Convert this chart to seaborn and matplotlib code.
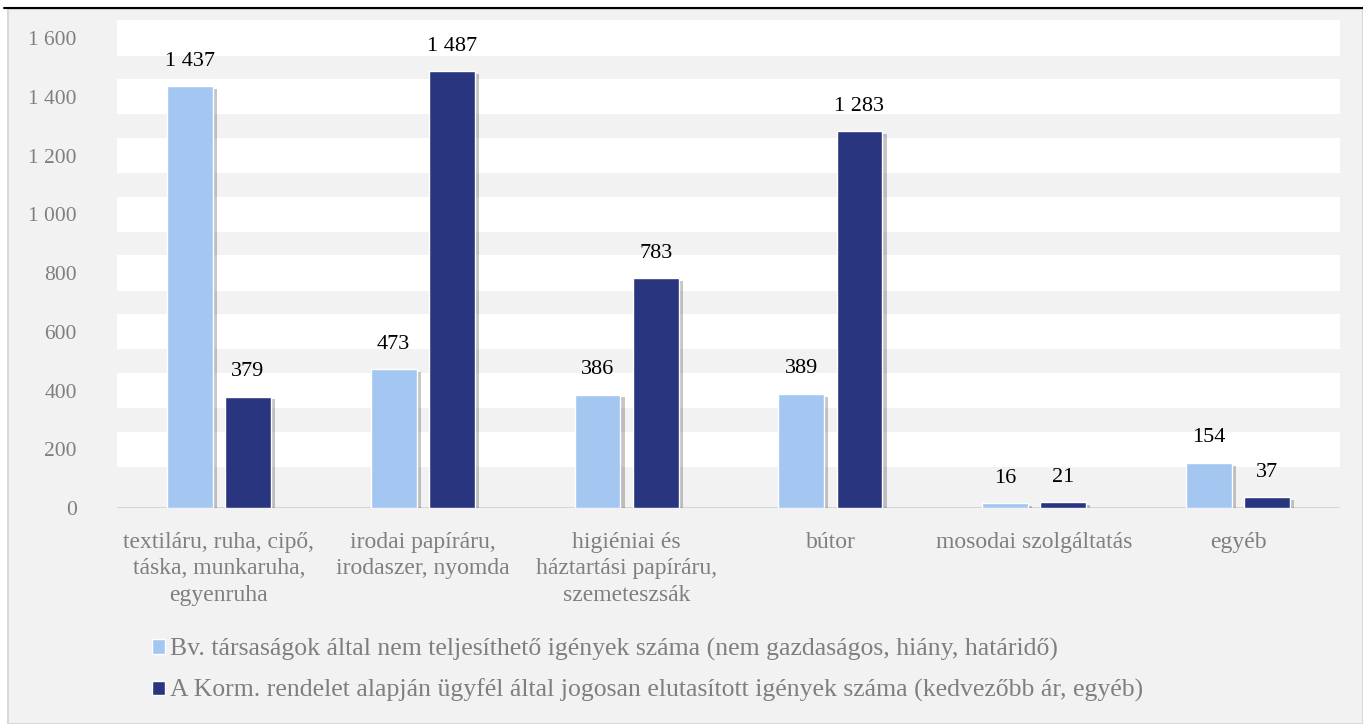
import matplotlib
matplotlib.use("Agg")
import matplotlib.pyplot as plt
import matplotlib.patheffects as pe
from matplotlib.patches import Rectangle
from matplotlib.lines import Line2D
import pandas as pd
import seaborn as sns

# data
categories = ["textiláru, ruha, cipő,\ntáska, munkaruha,\negyenruha",
              "irodai papíráru,\nirodaszer, nyomda",
              "higiéniai és\nháztartási papíráru,\nszemeteszsák",
              "bútor",
              "mosodai szolgáltatás",
              "egyéb"]
series_names = ["Bv. társaságok által nem teljesíthető igények száma (nem gazdaságos, hiány, határidő)",
                "A Korm. rendelet alapján ügyfél által jogosan elutasított igények száma (kedvezőbb ár, egyéb)"]
not_fulfilled = [1437, 473, 386, 389, 16, 154]
rejected = [379, 1487, 783, 1283, 21, 37]
yticks = [0, 200, 400, 600, 800, 1000, 1200, 1400, 1600]

colors = ["#a3c7f1", "#29367f"]
grey_txt = "#7f7f7f"

df = pd.DataFrame({
    "kategoria": categories * 2,
    "sorozat": [series_names[0]] * 6 + [series_names[1]] * 6,
    "db": not_fulfilled + rejected,
})

sns.set_theme(style="white")
plt.rcParams["font.family"] = ["serif"]
plt.rcParams["font.serif"] = ["Liberation Serif", "DejaVu Serif"]

fig = plt.figure(figsize=(13.63, 7.24), dpi=100)
fig.patch.set_facecolor("white")

# grey panel behind the chart and black rule on top
fig.patches.append(Rectangle((8 / 1363, 0), 1 - 8 / 1363, 1 - 9 / 724,
                             transform=fig.transFigure, facecolor="#f2f2f2",
                             edgecolor="#d9d9d9", lw=1.5, zorder=-10))
fig.lines.append(Line2D([4 / 1363, 1], [1 - 8 / 724, 1 - 8 / 724],
                        transform=fig.transFigure, color="black", lw=1.5))

ax = fig.add_axes([117 / 1363, 1 - 508 / 724, (1340 - 117) / 1363, (508 - 20.4) / 724])
ax.set_facecolor("none")

# wide white bands around each gridline, like the original
for v in yticks[1:]:
    ax.axhspan(v - 60, v + 60, color="white", zorder=0, lw=0)
ax.axhline(0, color="#d0d0d0", lw=1.2, zorder=1)

sns.barplot(data=df, x="kategoria", y="db", hue="sorozat", palette=colors,
            width=0.57, gap=0.21, saturation=1, ax=ax, zorder=3)

handles, labels = ax.get_legend_handles_labels()
ax.get_legend().remove()

for cont, vals in zip(ax.containers, [not_fulfilled, rejected]):
    for bar in cont:
        bar.set_path_effects([pe.SimplePatchShadow(offset=(3, -2), shadow_rgbFace="#444444", alpha=0.3),
                              pe.Normal()])
    ax.bar_label(cont, labels=[f"{v:,}".replace(",", " ") for v in vals],
                 padding=11, fontsize=16, color="black")

ax.set_xlim(-0.5, 5.5)
ax.set_ylim(0, 1660)
ax.set_yticks(yticks)
ax.set_yticklabels([f"{v:,}".replace(",", " ") for v in yticks])
ax.tick_params(axis="y", length=0, pad=29, labelsize=15.5, labelcolor=grey_txt)
ax.tick_params(axis="x", length=0, pad=17, labelsize=17, labelcolor=grey_txt)
for lbl in ax.get_xticklabels():
    lbl.set_linespacing(1.36)
ax.set_xlabel("")
ax.set_ylabel("")
sns.despine(ax=ax, left=True, bottom=True)

fig.legend(handles, labels, loc="upper left", bbox_to_anchor=(152 / 1363, 1 - 638 / 724),
           frameon=False, fontsize=18.5, labelcolor=grey_txt, handlelength=0.5,
           handleheight=0.5, handletextpad=0.2, labelspacing=0.7, borderpad=0,
           borderaxespad=0, ncol=1)

fig.savefig("out.png", dpi=100)
